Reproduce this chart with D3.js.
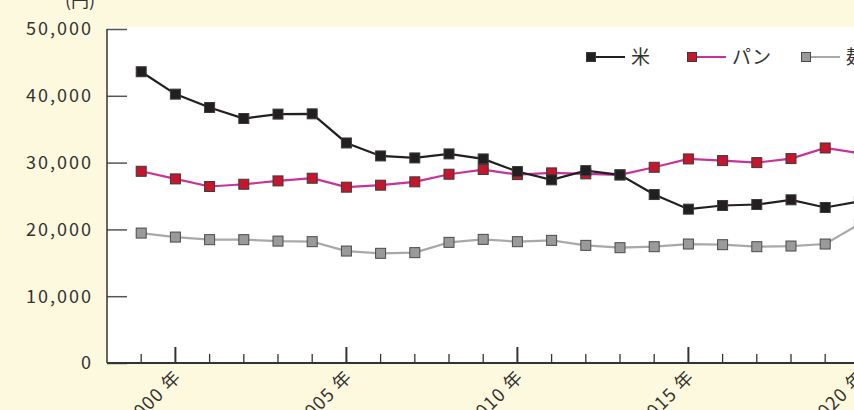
<!DOCTYPE html>
<html>
<head>
<meta charset="utf-8">
<script src="https://cdn.jsdelivr.net/npm/d3@7"></script>
<style>
  html, body { margin: 0; padding: 0; background: #fdf9de; }
  svg { display: block; }
  text { font-family: "Noto Sans CJK JP", "Noto Sans", sans-serif; fill: #333; }
</style>
</head>
<body>
<svg id="chart" width="854" height="410"></svg>
<script>
// Annual household spending on staple foods (yen)
const years = [1999, 2000, 2001, 2002, 2003, 2004, 2005, 2006, 2007, 2008, 2009,
               2010, 2011, 2012, 2013, 2014, 2015, 2016, 2017, 2018, 2019, 2020];
const rice    = [43600, 40250, 38250, 36600, 37260, 37300, 32940, 31000, 30700, 31300, 30550,
                 28660, 27420, 28800, 28160, 25220, 23030, 23580, 23730, 24430, 23280, 24200];
const bread   = [28700, 27560, 26420, 26760, 27260, 27660, 26320, 26620, 27120, 28260, 28960,
                 28200, 28460, 28310, 28160, 29300, 30550, 30300, 30000, 30600, 32190, 31420];
const noodles = [19450, 18850, 18460, 18460, 18250, 18160, 16760, 16420, 16520, 18060, 18510,
                 18160, 18360, 17610, 17260, 17410, 17810, 17710, 17410, 17510, 17810, 20800];
const yTicks = [0, 10000, 20000, 30000, 40000, 50000];
const majorYears = [2000, 2005, 2010, 2015, 2020];
const seriesNames = ["米", "パン", "麺類"];
const unitLabel = "(円)";

const series = [
  { name: seriesNames[2], values: noodles, line: "#a9a9a9", fill: "#9a9a9a", stroke: "#4a4a4a" },
  { name: seriesNames[1], values: bread,   line: "#c8329b", fill: "#c4162c", stroke: "#3a3a3a" },
  { name: seriesNames[0], values: rice,    line: "#231f20", fill: "#231f20", stroke: "#3a3a3a" }
];

const svg = d3.select("#chart");
const plotLeft = 107, plotTop = 29, plotBottom = 363;

const x = d3.scaleLinear().domain([1998, 2021]).range([plotLeft, plotLeft + 23 * 34.2]);
const y = d3.scaleLinear().domain([0, 50000]).range([plotBottom, plotTop]);

// white plotting area
svg.append("rect")
  .attr("x", plotLeft).attr("y", plotTop - 2)
  .attr("width", 854 - plotLeft).attr("height", plotBottom - plotTop + 2)
  .attr("fill", "#ffffff");

// y axis with ticks pointing into the plot
const yAxis = svg.append("g").attr("transform", `translate(${plotLeft},0)`)
  .call(d3.axisRight(y).tickValues(yTicks).tickSize(20).tickFormat(""));
yAxis.select(".domain").remove();
yAxis.selectAll(".tick line").attr("stroke", "#555").attr("stroke-width", 1.5);
svg.append("line")
  .attr("x1", plotLeft).attr("x2", plotLeft).attr("y1", plotTop).attr("y2", plotBottom)
  .attr("stroke", "#333").attr("stroke-width", 1.5);

svg.append("g").selectAll("text").data(yTicks).join("text")
  .attr("x", 93).attr("y", d => y(d))
  .attr("dy", "0.36em")
  .attr("text-anchor", "end")
  .attr("font-size", 18)
  .attr("letter-spacing", 2)
  .text(d => d3.format(",")(d));

svg.append("text")
  .attr("x", 80).attr("y", 7)
  .attr("text-anchor", "middle")
  .attr("font-size", 18)
  .text(unitLabel);

// x axis: long ticks on five-year marks, short ticks every year
const allYears = d3.range(1999, 2022);
svg.append("g").selectAll("line").data(allYears).join("line")
  .attr("x1", d => x(d)).attr("x2", d => x(d))
  .attr("y1", plotBottom)
  .attr("y2", d => majorYears.includes(d) ? plotBottom - 16 : plotBottom - 9)
  .attr("stroke", "#333")
  .attr("stroke-width", d => majorYears.includes(d) ? 2 : 1.3);
svg.append("line")
  .attr("x1", plotLeft).attr("x2", 854).attr("y1", plotBottom).attr("y2", plotBottom)
  .attr("stroke", "#333").attr("stroke-width", 2);

svg.append("g").selectAll("text").data(majorYears).join("text")
  .attr("transform", d => `translate(${x(d) + 7},${plotBottom + 15}) rotate(-45)`)
  .attr("text-anchor", "end")
  .attr("font-size", 18)
  .attr("letter-spacing", 1.2)
  .text(d => d + " 年");

// series lines and square markers
const line = d3.line().x((d, i) => x(years[i])).y(d => y(d));
const ms = 10;
series.forEach(s => {
  svg.append("path")
    .attr("d", line(s.values))
    .attr("fill", "none")
    .attr("stroke", s.line)
    .attr("stroke-width", 2.2);
  svg.append("g").selectAll("rect").data(s.values).join("rect")
    .attr("x", (d, i) => x(years[i]) - ms / 2)
    .attr("y", d => y(d) - ms / 2)
    .attr("width", ms).attr("height", ms)
    .attr("fill", s.fill)
    .attr("stroke", s.stroke)
    .attr("stroke-width", 1);
});

// legend
const legendItems = [
  { s: series[2], x: 591 },
  { s: series[1], x: 692 },
  { s: series[0], x: 806 }
];
const legendY = 57;
const lg = svg.append("g");
legendItems.forEach(it => {
  lg.append("line")
    .attr("x1", it.x).attr("x2", it.x + 34)
    .attr("y1", legendY).attr("y2", legendY)
    .attr("stroke", it.s.line).attr("stroke-width", 2);
  lg.append("rect")
    .attr("x", it.x - 4.5).attr("y", legendY - 4.5)
    .attr("width", 9).attr("height", 9)
    .attr("fill", it.s.fill).attr("stroke", it.s.stroke).attr("stroke-width", 1);
  lg.append("text")
    .attr("x", it.x + 40).attr("y", legendY)
    .attr("dy", "0.36em")
    .attr("font-size", 19)
    .text(it.s.name);
});
</script>
</body>
</html>
